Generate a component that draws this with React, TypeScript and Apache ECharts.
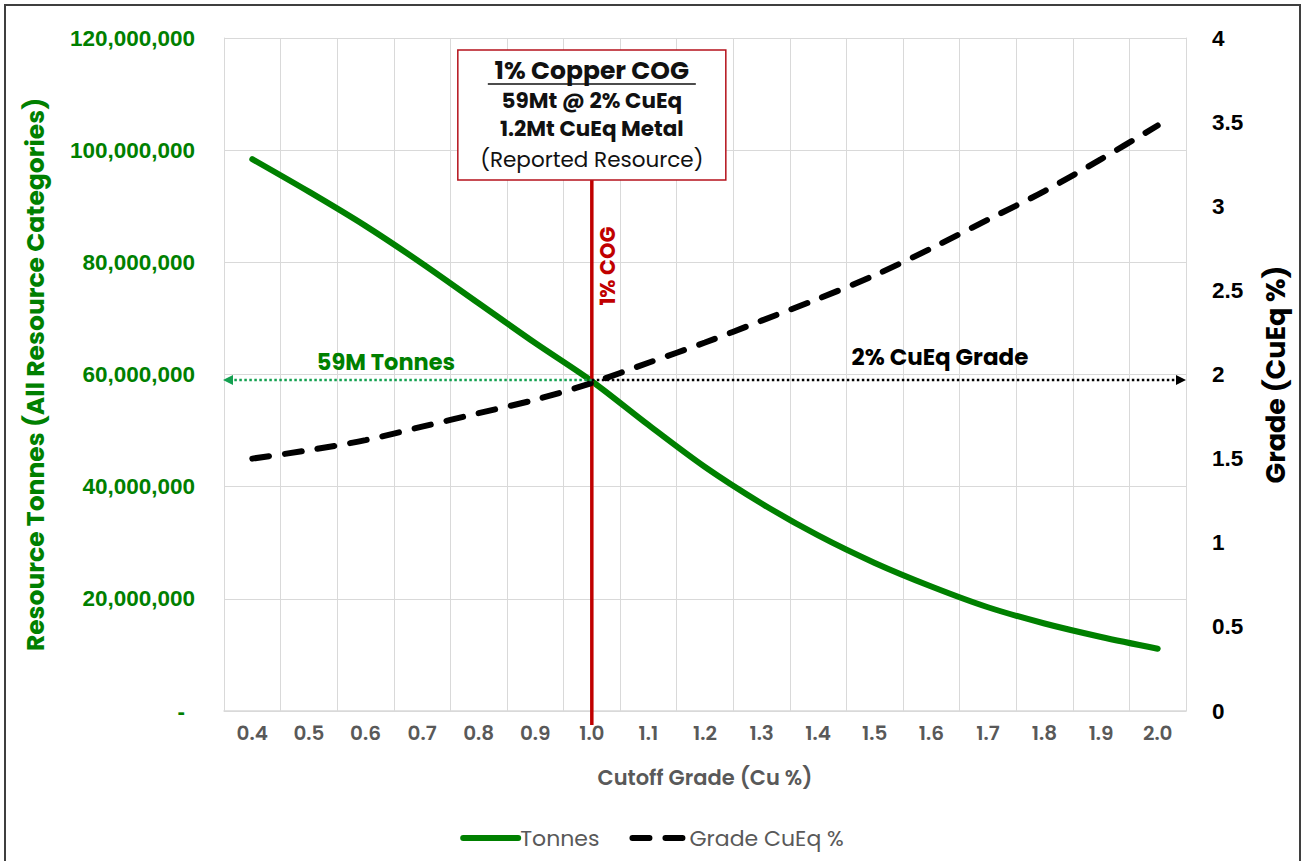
import React, { useEffect, useRef } from "react";
import * as echarts from "echarts";

const categories = ["0.4", "0.5", "0.6", "0.7", "0.8", "0.9", "1.0", "1.1", "1.2", "1.3", "1.4", "1.5", "1.6", "1.7", "1.8", "1.9", "2.0"];
const tonnes = [98.4e6, 92.6e6, 86.5e6, 79.8e6, 72.7e6, 65.6e6, 58.8e6, 51.0e6, 43.5e6, 37.0e6, 31.3e6, 26.4e6, 22.2e6, 18.5e6, 15.6e6, 13.2e6, 11.1e6];
const grade = [1.50, 1.55, 1.61, 1.69, 1.77, 1.85, 1.95, 2.07, 2.19, 2.32, 2.45, 2.59, 2.75, 2.92, 3.09, 3.28, 3.48];

const COG_CATEGORY = "1.0";
const COG_TONNES = 59e6;
const boxLines = ["1% Copper COG", "59Mt @ 2% CuEq", "1.2Mt CuEq Metal", "(Reported Resource)"];
const cogLabel = "1% COG";
const tonnesLabel = "59M Tonnes";
const gradeLabel = "2% CuEq Grade";

const FONT = "Poppins, Inter, 'Noto Sans', sans-serif";
const NUMFONT = "'Liberation Sans', Arial, sans-serif";
const GREEN = "#008000";
const RED = "#c00000";
const GRAY = "#595959";
const GRID = "#d9d9d9";

const GRID_LEFT = 224;
const GRID_RIGHT = 1186;
const GRID_TOP = 38;
const GRID_BOTTOM = 711;

export default function App() {
  const ref = useRef<HTMLDivElement>(null);
  useEffect(() => {
    const chart = echarts.init(ref.current!, null, { renderer: "svg" });
    const option: any = {
      animation: false,
      backgroundColor: "#ffffff",
      grid: { left: GRID_LEFT, right: 1304 - GRID_RIGHT, top: GRID_TOP, bottom: 861 - GRID_BOTTOM, containLabel: false },
      legend: {
        data: ["Tonnes", "Grade CuEq %"],
        left: "center",
        top: 822,
        itemWidth: 55,
        itemHeight: 22,
        itemGap: 30,
        lineStyle: { width: 6 },
        itemStyle: { opacity: 0 },
        textStyle: { color: GRAY, fontSize: 22, fontFamily: FONT, padding: [0, 0, 0, -3] },
      },
      xAxis: {
        type: "category",
        data: categories,
        boundaryGap: true,
        name: "Cutoff Grade (Cu %)",
        nameLocation: "middle",
        nameGap: 56,
        nameTextStyle: { color: GRAY, fontSize: 21, fontWeight: 600, fontFamily: FONT },
        axisLine: { show: true, lineStyle: { color: GRID, width: 1.5 } },
        axisTick: { show: false },
        axisLabel: { color: GRAY, fontSize: 20, fontWeight: 600, fontFamily: FONT, margin: 12 },
        splitLine: { show: true, lineStyle: { color: GRID, width: 1 } },
      },
      yAxis: [
        {
          type: "value",
          position: "left",
          min: 0,
          max: 120e6,
          interval: 20e6,
          name: "Resource Tonnes (All Resource Categories)",
          nameLocation: "middle",
          nameGap: 176,
          nameTextStyle: { color: GREEN, fontSize: 25, fontWeight: "bold", fontFamily: FONT },
          axisLine: { show: true, lineStyle: { color: GRID, width: 1 } },
          axisTick: { show: false },
          axisLabel: {
            color: GREEN,
            fontSize: 22.5,
            fontWeight: "bold",
            fontFamily: NUMFONT,
            margin: 29,
            formatter: (v: number) => (v === 0 ? "{z|-}" : v.toLocaleString("en-US")),
            rich: { z: { color: GREEN, fontSize: 22.5, fontWeight: "bold", fontFamily: NUMFONT, padding: [0, 10, 0, 0] } },
          },
          splitLine: { show: true, lineStyle: { color: GRID, width: 1 } },
        },
        {
          type: "value",
          position: "right",
          min: 0,
          max: 4,
          interval: 0.5,
          name: "Grade (CuEq %)",
          nameLocation: "middle",
          nameGap: 76,
          nameTextStyle: { color: "#000", fontSize: 27, fontWeight: "bold", fontFamily: FONT },
          axisLine: { show: true, lineStyle: { color: GRID, width: 1 } },
          axisTick: { show: false },
          axisLabel: { color: "#000", fontSize: 22.5, fontWeight: "bold", fontFamily: NUMFONT, margin: 26 },
          splitLine: { show: false },
        },
      ],
      series: [
        {
          name: "Tonnes",
          type: "line",
          yAxisIndex: 0,
          data: tonnes,
          smooth: 0.3,
          symbol: "none",
          z: 3,
          lineStyle: { color: GREEN, width: 6, cap: "round" },
          itemStyle: { color: GREEN },
        },
        {
          name: "Grade CuEq %",
          type: "line",
          yAxisIndex: 1,
          data: grade,
          smooth: 0.3,
          symbol: "none",
          z: 6,
          lineStyle: { color: "#000", width: 6, type: [17, 16], cap: "round" },
          itemStyle: { color: "#000" },
        },
      ],
    };
    chart.setOption(option);

    const xc = chart.convertToPixel({ xAxisIndex: 0 }, COG_CATEGORY) as number;
    const yc = chart.convertToPixel({ yAxisIndex: 0 }, COG_TONNES) as number;
    const boxTop = 50;
    const boxBottom = 180;
    const boxHalf = 134;

    const boxText =
      "{t|" + boxLines[0] + "}\n{b|" + boxLines[1] + "}\n{b|" + boxLines[2] + "}\n{r|" + boxLines[3] + "}";

    const graphics: any[] = [
      {
        type: "rect",
        z: 100,
        silent: true,
        shape: { x: 5, y: 5, width: 1295, height: 900 },
        style: { fill: "none", stroke: "#3f3f3f", lineWidth: 2 },
      },
      {
        type: "line",
        z: 5,
        shape: { x1: xc, y1: boxBottom, x2: xc, y2: 725 },
        style: { stroke: RED, lineWidth: 3.5 },
      },
      {
        type: "rect",
        z: 8,
        shape: { x: xc - boxHalf, y: boxTop, width: boxHalf * 2, height: boxBottom - boxTop },
        style: { fill: "#fff", stroke: "#b5121b", lineWidth: 1.5 },
      },
      {
        type: "text",
        z: 9,
        style: {
          text: boxText,
          x: xc,
          y: 54,
          align: "center",
          verticalAlign: "top",
          fill: "#111",
          fontFamily: FONT,
          rich: {
            t: { fontSize: 25, fontWeight: "bold", fontFamily: FONT, lineHeight: 32.5, fill: "#111" },
            b: { fontSize: 21.5, fontWeight: "bold", fontFamily: FONT, lineHeight: 28, fill: "#111" },
            r: { fontSize: 21.5, fontWeight: "normal", fontFamily: FONT, lineHeight: 33, fill: "#111" },
          },
        },
      },
      {
        type: "line",
        z: 9,
        shape: { x1: xc - 104, y1: 84, x2: xc + 104, y2: 84 },
        style: { stroke: "#111", lineWidth: 1.5 },
      },
      {
        type: "text",
        z: 9,
        x: xc + 16,
        y: 266,
        rotation: Math.PI / 2,
        style: { text: cogLabel, x: 0, y: 0, align: "center", verticalAlign: "middle", fill: RED, fontSize: 21, fontWeight: "bold", fontFamily: FONT },
      },
      {
        type: "line",
        z: 7,
        shape: { x1: xc, y1: yc, x2: GRID_LEFT + 8, y2: yc },
        style: { stroke: "#13a050", lineWidth: 2.5, lineDash: [2.5, 2.5] },
      },
      {
        type: "polygon",
        z: 7,
        shape: { points: [[GRID_LEFT - 1, yc], [GRID_LEFT + 9, yc - 5], [GRID_LEFT + 9, yc + 5]] },
        style: { fill: "#13a050" },
      },
      {
        type: "line",
        z: 7,
        shape: { x1: xc, y1: yc, x2: GRID_RIGHT - 8, y2: yc },
        style: { stroke: "#000", lineWidth: 2.5, lineDash: [2.5, 2.5] },
      },
      {
        type: "polygon",
        z: 7,
        shape: { points: [[GRID_RIGHT, yc], [GRID_RIGHT - 10, yc - 5], [GRID_RIGHT - 10, yc + 5]] },
        style: { fill: "#000" },
      },
      {
        type: "text",
        z: 9,
        style: { text: tonnesLabel, x: 386, y: 362, align: "center", verticalAlign: "middle", fill: GREEN, fontSize: 22.5, fontWeight: "bold", fontFamily: FONT },
      },
      {
        type: "text",
        z: 9,
        style: { text: gradeLabel, x: 940, y: 357, align: "center", verticalAlign: "middle", fill: "#000", fontSize: 23, fontWeight: "bold", fontFamily: FONT },
      },
    ];
    chart.setOption({ graphic: graphics });

    return () => chart.dispose();
  }, []);
  return <div ref={ref} style={{ position: "fixed", left: 0, top: 0, width: 1304, height: 861 }} />;
}
